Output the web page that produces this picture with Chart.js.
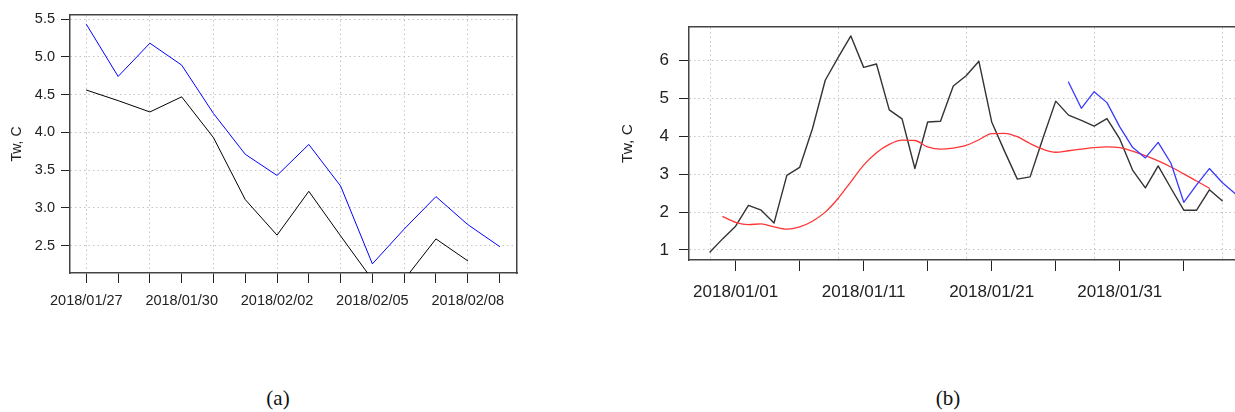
<!DOCTYPE html>
<html>
<head>
<meta charset="utf-8">
<script src="https://cdn.jsdelivr.net/npm/chart.js@4/dist/chart.umd.min.js"></script>
<style>
  html, body { margin: 0; padding: 0; background: #fff; width: 1235px; height: 412px; overflow: hidden; position: relative; }
  #wa { position: absolute; left: 0; top: 0; width: 540px; height: 330px; }
  #wb { position: absolute; left: 590px; top: 0; width: 700px; height: 330px; }
  .cap { position: absolute; top: 386px; font-family: "Liberation Serif", "DejaVu Serif", serif; font-size: 21px; color: #111; transform: translateX(-50%); }
</style>
</head>
<body>
<div id="wa"><canvas id="ca" width="540" height="330"></canvas></div>
<div id="wb"><canvas id="cb" width="700" height="330"></canvas></div>
<div class="cap" style="left:278px">(a)</div>
<div class="cap" style="left:948px">(b)</div>
<script>
// Daily water temperature Tw (°C)

// Full daily calendar covered by panel (b)
const bDates = [
  '2017/12/30', '2017/12/31',
  '2018/01/01', '2018/01/02', '2018/01/03', '2018/01/04', '2018/01/05', '2018/01/06', '2018/01/07',
  '2018/01/08', '2018/01/09', '2018/01/10', '2018/01/11', '2018/01/12', '2018/01/13', '2018/01/14',
  '2018/01/15', '2018/01/16', '2018/01/17', '2018/01/18', '2018/01/19', '2018/01/20', '2018/01/21',
  '2018/01/22', '2018/01/23', '2018/01/24', '2018/01/25', '2018/01/26', '2018/01/27', '2018/01/28',
  '2018/01/29', '2018/01/30', '2018/01/31',
  '2018/02/01', '2018/02/02', '2018/02/03', '2018/02/04', '2018/02/05', '2018/02/06', '2018/02/07',
  '2018/02/08', '2018/02/09'
];
// Close-up period of panel (a)
const aDates = [
  '2018/01/27', '2018/01/28', '2018/01/29', '2018/01/30', '2018/01/31', '2018/02/01', '2018/02/02',
  '2018/02/03', '2018/02/04', '2018/02/05', '2018/02/06', '2018/02/07', '2018/02/08', '2018/02/09'
];

// Series (one value per day from its start date)
const blackStart = '2017/12/30';
const blackTw = [
  0.95, 1.30, 1.63, 2.18, 2.05, 1.71, 2.97, 3.18, 4.20, 5.48, 6.08, 6.65, 5.82, 5.91,
  4.70, 4.46, 3.15, 4.38, 4.40, 5.33, 5.60, 5.98, 4.38, 3.61, 2.87, 2.93, 3.95, 4.93,
  4.56, 4.42, 4.27, 4.47, 3.93, 3.11, 2.64, 3.22, 2.63, 2.05, 2.05, 2.59, 2.30
];
const redStart = '2017/12/31';
const redTw = [
  1.88, 1.73, 1.67, 1.69, 1.61, 1.55, 1.61, 1.76, 2.00, 2.36, 2.80, 3.24, 3.57, 3.79,
  3.90, 3.89, 3.72, 3.66, 3.69, 3.76, 3.91, 4.07, 4.08, 3.99, 3.81, 3.66, 3.58, 3.62,
  3.66, 3.70, 3.72, 3.70, 3.61, 3.49, 3.35, 3.19, 3.01, 2.82, 2.63
];
const blueStart = '2018/01/27';
const blueTw = [5.43, 4.74, 5.18, 4.89, 4.25, 3.71, 3.43, 3.84, 3.29, 2.26, 2.72, 3.15, 2.78, 2.49];

// Axis ticks, labels and grid positions
const aTickLabels = ['2018/01/27', '2018/01/30', '2018/02/02', '2018/02/05', '2018/02/08'];
const aGridDates = ['2018/01/27', '2018/01/29', '2018/01/31', '2018/02/02', '2018/02/04', '2018/02/06', '2018/02/08'];
const aYTicks = [2.5, 3.0, 3.5, 4.0, 4.5, 5.0, 5.5];

const bTickDates = ['2018/01/01', '2018/01/06', '2018/01/11', '2018/01/16', '2018/01/21', '2018/01/26', '2018/01/31', '2018/02/05'];
const bTickLabels = ['2018/01/01', '2018/01/11', '2018/01/21', '2018/01/31'];
const bGridDates = ['2017/12/30', '2018/01/09', '2018/01/19', '2018/01/29', '2018/02/08'];
const bYTicks = [1, 2, 3, 4, 5, 6];

const yTitle = 'Tw, C';

// Place a daily series on a panel's day axis
function toPoints(values, start, dates) {
  const s = bDates.indexOf(start);
  const pts = [];
  values.forEach((v, i) => {
    const x = dates.indexOf(bDates[s + i]);
    if (x >= 0) pts.push({ x: x, y: v });
  });
  return pts;
}

const ink = '#222';
const boxColor = '#444';
const gridColor = '#c4c4c4';
const sans = '"Liberation Sans", Arial, Helvetica, sans-serif';

function panel(canvasId, o) {
  const W = o.width, H = o.height, A = o.area;
  return new Chart(document.getElementById(canvasId), {
    type: 'line',
    data: { datasets: o.datasets },
    options: {
      responsive: false,
      animation: false,
      events: [],
      layout: { padding: 0 },
      plugins: { legend: { display: false }, tooltip: { enabled: false } },
      elements: { point: { radius: 0 }, line: { tension: 0, borderJoinStyle: 'round', borderCapStyle: 'round' } },
      scales: {
        x: {
          type: 'linear', position: 'bottom', min: o.xMin, max: o.xMax,
          afterBuildTicks: s => { s.ticks = o.tickDates.map(d => ({ value: o.dates.indexOf(d) })); },
          afterFit: s => { s.height = H - A.bottom; },
          ticks: {
            autoSkip: false, maxRotation: 0, minRotation: 0, padding: o.xPad, color: ink,
            font: { family: sans, size: o.xFont },
            callback: v => (o.tickLabels.includes(o.dates[v]) ? o.dates[v] : '')
          },
          grid: { drawOnChartArea: false, drawTicks: true, tickLength: o.xTick, tickColor: ink, tickWidth: 1 },
          border: { display: true, color: boxColor, width: 1.5 }
        },
        xg: {
          type: 'linear', position: 'top', min: o.xMin, max: o.xMax,
          afterBuildTicks: s => { s.ticks = o.gridDates.map(d => ({ value: o.dates.indexOf(d) })); },
          afterFit: s => { s.height = A.top; },
          ticks: { display: false },
          grid: { drawTicks: false, drawOnChartArea: true, color: gridColor, lineWidth: 1 },
          border: { display: true, color: boxColor, width: 1.5, dash: [1.5, 3] }
        },
        y: {
          type: 'linear', position: 'left', min: o.yMin, max: o.yMax,
          afterBuildTicks: s => { s.ticks = o.yTicks.map(v => ({ value: v })); },
          afterFit: s => { s.width = A.left; },
          ticks: {
            padding: o.yPad, color: ink, font: { family: sans, size: o.yFont },
            callback: v => (o.yDecimals ? v.toFixed(o.yDecimals) : String(v))
          },
          grid: { drawOnChartArea: true, drawTicks: true, tickLength: o.yTick, color: gridColor, lineWidth: 1, tickColor: ink, tickWidth: 1, tickBorderDash: [] },
          border: { display: true, color: boxColor, width: 1.5, dash: [1.5, 3] },
          title: { display: true, text: yTitle, color: ink, font: { family: sans, size: o.titleFont }, padding: { top: o.titlePad, bottom: 0 } }
        },
        yr: {
          type: 'linear', position: 'right', min: o.yMin, max: o.yMax,
          afterFit: s => { s.width = W - A.right; },
          ticks: { display: false },
          grid: { display: false, drawTicks: false },
          border: { display: true, color: boxColor, width: 1.5 }
        }
      }
    }
  });
}

// (a) close-up of the last two weeks
panel('ca', {
  width: 540, height: 330,
  area: { left: 70, right: 517, top: 15, bottom: 273 },
  dates: aDates, tickDates: aDates, tickLabels: aTickLabels, gridDates: aGridDates,
  xMin: -0.514, xMax: 13.55, yMin: 2.139, yMax: 5.553, yTicks: aYTicks, yDecimals: 1,
  xFont: 14.5, yFont: 14.5, titleFont: 14, titlePad: 8.6,
  xTick: 10, xPad: 9, yTick: 9, yPad: 6,
  datasets: [
    { data: toPoints(blueTw, blueStart, aDates), borderColor: '#0000ff', borderWidth: 1, clip: 0 },
    { data: toPoints(blackTw, blackStart, aDates), borderColor: '#000000', borderWidth: 1, clip: 0 }
  ]
});

// (b) whole period with the smoothed curve
panel('cb', {
  width: 700, height: 330,
  area: { left: 99, right: 666, top: 27, bottom: 260 },
  dates: bDates, tickDates: bTickDates, tickLabels: bTickLabels, gridDates: bGridDates,
  xMin: -1.64, xMax: 42.64, yMin: 0.736, yMax: 6.886, yTicks: bYTicks, yDecimals: 0,
  xFont: 17, yFont: 17, titleFont: 15.5, titlePad: 28,
  xTick: 11, xPad: 11, yTick: 10, yPad: 10,
  datasets: [
    { data: toPoints(blueTw, blueStart, bDates), borderColor: '#3a3aff', borderWidth: 1.3, clip: 0 },
    { data: toPoints(redTw, redStart, bDates), borderColor: '#ff3535', borderWidth: 1.3, clip: 0, tension: 0.3, cubicInterpolationMode: 'monotone' },
    { data: toPoints(blackTw, blackStart, bDates), borderColor: '#333333', borderWidth: 1.4, clip: 0 }
  ]
});
</script>
</body>
</html>
